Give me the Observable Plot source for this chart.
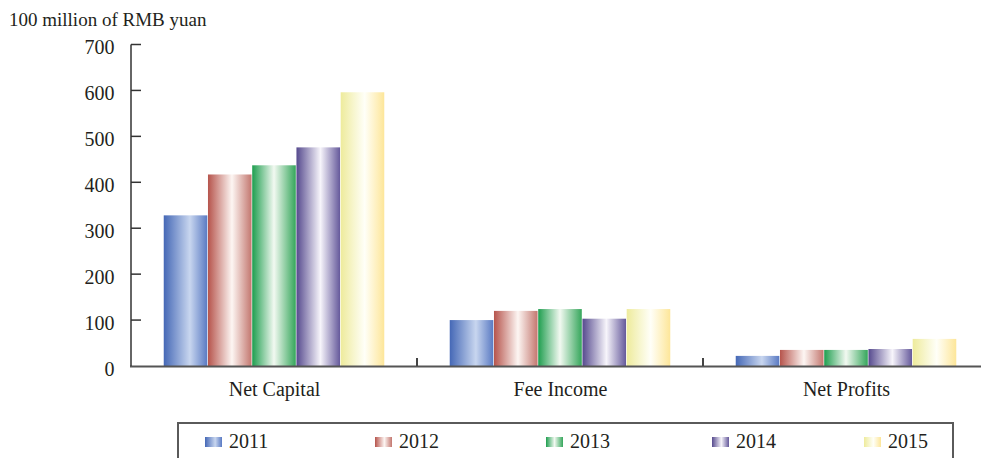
<!DOCTYPE html>
<html>
<head>
<meta charset="utf-8">
<script src="https://cdn.jsdelivr.net/npm/d3@7"></script>
<script src="https://cdn.jsdelivr.net/npm/@observablehq/plot@0.6"></script>
<style>
  html, body { margin: 0; padding: 0; background: #fff; overflow: hidden; }
  #wrap { width: 981px; height: 458px; overflow: hidden; position: relative;
          font-family: "Liberation Serif", "Times New Roman", serif; color: #231f20; }
  .title { height: 30px; box-sizing: border-box; padding: 10px 0 0 9px;
           font-size: 19px; line-height: 20px; white-space: nowrap; }
  #chart { width: 990px; }
  #chart svg { display: block; overflow: visible; max-width: none !important; height: 382px !important; }
  .legend { margin: 10px 0 0 177px; width: 777px; height: 60px; box-sizing: border-box;
            border: 2px solid #5a5a5a; display: grid; align-items: start; align-content: start;
            grid-template-columns: 170px 171px 166px 152px auto;
            padding: 7px 0 0 26px; font-size: 20px; line-height: 20px; }
  .item { display: flex; align-items: center; }
  .sw { width: 17px; height: 10px; margin-right: 7px; margin-top: 2px; }
</style>
</head>
<body>
<div id="wrap">
  <div class="title">100 million of RMB yuan</div>
  <div id="chart"></div>
  <div class="legend" id="legend"></div>
</div>
<script>
// Categories, series and ticks
const categories = ["Net Capital", "Fee Income", "Net Profits"];
const years = ["2011", "2012", "2013", "2014", "2015"];
const v2011 = [328, 100, 22];
const v2012 = [417, 120, 35];
const v2013 = [437, 124, 35];
const v2014 = [476, 103, 37];
const v2015 = [596, 124, 59];
const yTicks = [0, 100, 200, 300, 400, 500, 600, 700];

const seriesValues = [v2011, v2012, v2013, v2014, v2015];

// Cylinder-like shading per series: [edge, highlight, far edge, highlight offset]
const shades = {
  "2011": ["#4568b6", "#c8d6ef", "#5a7ac3", 0.6],
  "2012": ["#b6544c", "#fdf6f3", "#c3776f", 0.55],
  "2013": ["#1f9e4f", "#f2f9f1", "#35a65b", 0.5],
  "2014": ["#564a8e", "#f7f5fb", "#65599b", 0.55],
  "2015": ["#eeeb9c", "#fffff8", "#fde699", 0.55]
};

const rows = years.flatMap((yr, j) =>
  categories.map((c, i) => ({category: c, year: yr, value: seriesValues[j][i]})));

const W = 990, H = 382, mL = 130, mR = 0, mT = 14.5, mB = 46;
const step = (W - mL - mR) / categories.length;
// Position of each year's bar inside a category band
const sub = d3.scaleBand(years, [0, step]).paddingInner(0).paddingOuter(0.74);

const gradients = () => {
  const defs = d3.create("svg:defs");
  for (const yr of years) {
    const [a, b, c, o] = shades[yr];
    const g = defs.append("linearGradient").attr("id", "g" + yr)
      .attr("x1", 0).attr("x2", 1).attr("y1", 0).attr("y2", 0);
    g.append("stop").attr("offset", 0).attr("stop-color", a);
    g.append("stop").attr("offset", o).attr("stop-color", b);
    g.append("stop").attr("offset", 1).attr("stop-color", c);
  }
  return defs.node();
};

// Left axis line with inward ticks, plus group separator ticks on the baseline
const frameLines = (index, {x, y}) => {
  const g = d3.create("svg:g").attr("stroke", "#333").attr("fill", "none");
  g.append("line").attr("x1", mL + 1).attr("x2", mL + 1)
    .attr("y1", y(yTicks[yTicks.length - 1])).attr("y2", y(0)).attr("stroke-width", 1.5);
  for (const t of yTicks.slice(1)) {
    g.append("line").attr("x1", mL + 1).attr("x2", mL + 11)
      .attr("y1", y(t)).attr("y2", y(t)).attr("stroke-width", 1.5);
  }
  for (const c of categories.slice(1)) {
    const px = x(c);
    g.append("line").attr("x1", px).attr("x2", px)
      .attr("y1", y(0) - 8).attr("y2", y(0)).attr("stroke", "#444").attr("stroke-width", 2);
  }
  return g.node();
};

const chart = Plot.plot({
  width: W, height: H,
  marginLeft: mL, marginRight: mR, marginTop: mT, marginBottom: mB,
  style: {fontFamily: "'Liberation Serif', 'Times New Roman', serif", fontSize: "20px", color: "#231f20", background: "transparent"},
  x: {domain: categories, padding: 0, label: null},
  y: {domain: [0, 700], label: null},
  marks: [
    gradients,
    ...years.map(yr => Plot.barY(rows.filter(d => d.year === yr), {
      x: "category", y: "value", fill: `url(#g${yr})`,
      insetLeft: sub(yr), insetRight: step - sub(yr) - sub.bandwidth()
    })),
    Plot.ruleY([0], {stroke: "#555", strokeWidth: 2}),
    frameLines,
    Plot.axisY(yTicks, {tickSize: 0, tickPadding: 16, fontSize: 20, dy: 3, label: null}),
    Plot.axisX({tickSize: 0, tickPadding: 15, fontSize: 20, label: null})
  ]
});
document.getElementById("chart").append(chart);

// Legend
const legend = d3.select("#legend");
for (const yr of years) {
  const [a, b, c, o] = shades[yr];
  const item = legend.append("div").attr("class", "item");
  item.append("div").attr("class", "sw")
    .style("background", `linear-gradient(to right, ${a} 0%, ${b} ${o * 100}%, ${c} 100%)`);
  item.append("span").text(yr);
}
</script>
</body>
</html>
